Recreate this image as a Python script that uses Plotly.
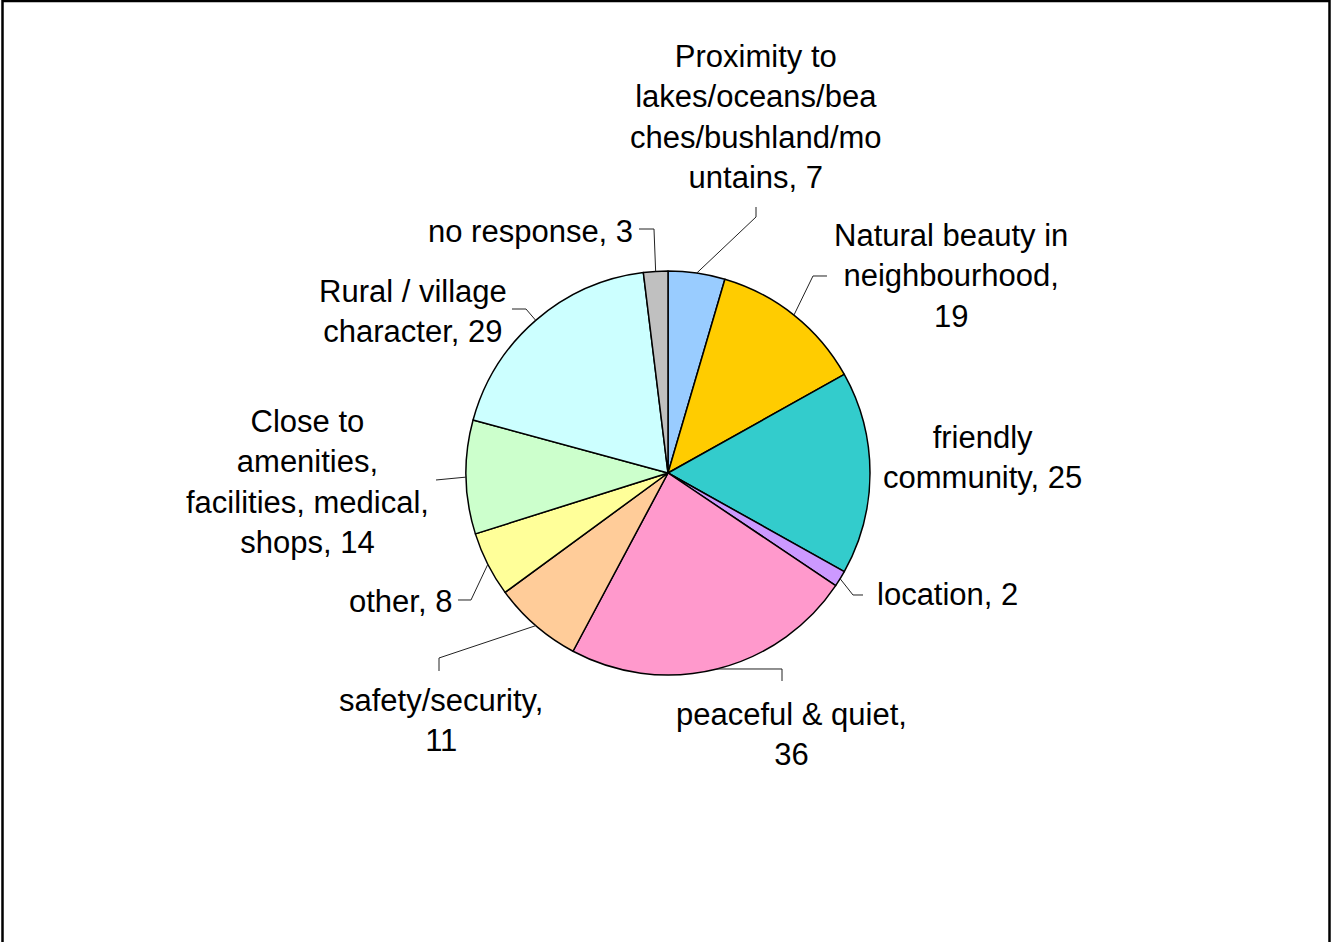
import math
import plotly.graph_objects as go

W, H = 1332, 942

# ---- data ----
categories = [
    "Proximity to lakes/oceans/beaches/bushland/mountains",
    "Natural beauty in neighbourhood",
    "friendly community",
    "location",
    "peaceful & quiet",
    "safety/security",
    "other",
    "Close to amenities, facilities, medical, shops",
    "Rural / village character",
    "no response",
]
values = [7, 19, 25, 2, 36, 11, 8, 14, 29, 3]
label_texts = [
    "Proximity to<br>lakes/oceans/bea<br>ches/bushland/mo<br>untains, 7",
    "Natural beauty in<br>neighbourhood,<br>19",
    "friendly<br>community, 25",
    "location, 2",
    "peaceful & quiet,<br>36",
    "safety/security,<br>11",
    "other, 8",
    "Close to<br>amenities,<br>facilities, medical,<br>shops, 14",
    "Rural / village<br>character, 29",
    "no response, 3",
]
colors = ["#99CCFF", "#FFCC00", "#33CCCC", "#CC99FF", "#FF99CC",
          "#FFCC99", "#FFFF99", "#CCFFCC", "#CCFFFF", "#C0C0C0"]

# ---- layout (pixel positions, top-left origin) ----
CX, CY, R = 668, 473, 202
label_pos = [(756, 117), (951, 276), (982, 457), (948, 594), (791, 734),
             (441, 720), (400, 601), (307, 482), (413, 311), (530, 232)]
# leader line elbow points after the slice edge point (None = no leader)
leader_pts = [
    [(756, 217), (756, 207)],
    [(813, 276), (827, 276)],
    None,
    [(853, 595), (863, 595)],
    [(782, 669), (782, 681)],
    [(439, 658), (439, 671)],
    [(471, 600), (458, 600)],
    [(436, 480)],
    [(526, 309), (512, 309)],
    [(654, 229), (639, 229)],
]

def px(x):
    return x / W

def py(y):
    return 1 - y / H

fig = go.Figure(go.Pie(
    labels=categories, values=values, sort=False, direction="clockwise",
    rotation=0, textinfo="none", hoverinfo="label+value",
    marker=dict(colors=colors, line=dict(color="black", width=1.5)),
    domain=dict(x=[px(CX - R), px(CX + R)], y=[py(CY + R), py(CY - R)]),
    showlegend=False,
))

total = sum(values)
cum = 0
shapes = []
annotations = []
for i, v in enumerate(values):
    mid = (cum + v / 2) / total * 2 * math.pi
    cum += v
    sx = CX + R * math.sin(mid)
    sy = CY - R * math.cos(mid)
    if leader_pts[i]:
        pts = [(sx, sy)] + leader_pts[i]
        path = "M " + " L ".join(f"{px(x):.5f},{py(y):.5f}" for x, y in pts)
        shapes.append(dict(type="path", xref="paper", yref="paper", path=path,
                           line=dict(color="#222222", width=1)))
    lx, ly = label_pos[i]
    annotations.append(dict(
        x=px(lx), y=py(ly), xref="paper", yref="paper", text=label_texts[i],
        showarrow=False, xanchor="center", yanchor="middle", align="center",
        font=dict(family="Liberation Sans, Arial, sans-serif", size=31, color="black"),
    ))

# chart border (bottom edge lies outside the visible area)
shapes.append(dict(type="path", xref="paper", yref="paper",
                   path=f"M {px(2.5)},0 L {px(2.5)},{py(1)} L {px(1329.5)},{py(1)} L {px(1329.5)},0",
                   line=dict(color="black", width=2.5)))

fig.update_layout(
    width=W, height=H, margin=dict(l=0, r=0, t=0, b=0),
    paper_bgcolor="white", plot_bgcolor="white",
    shapes=shapes, annotations=annotations,
)
fig.write_html(
    "out.html",
    config={"displayModeBar": False},
    post_script="document.body.style.margin='0';document.body.style.overflow='hidden';",
)
